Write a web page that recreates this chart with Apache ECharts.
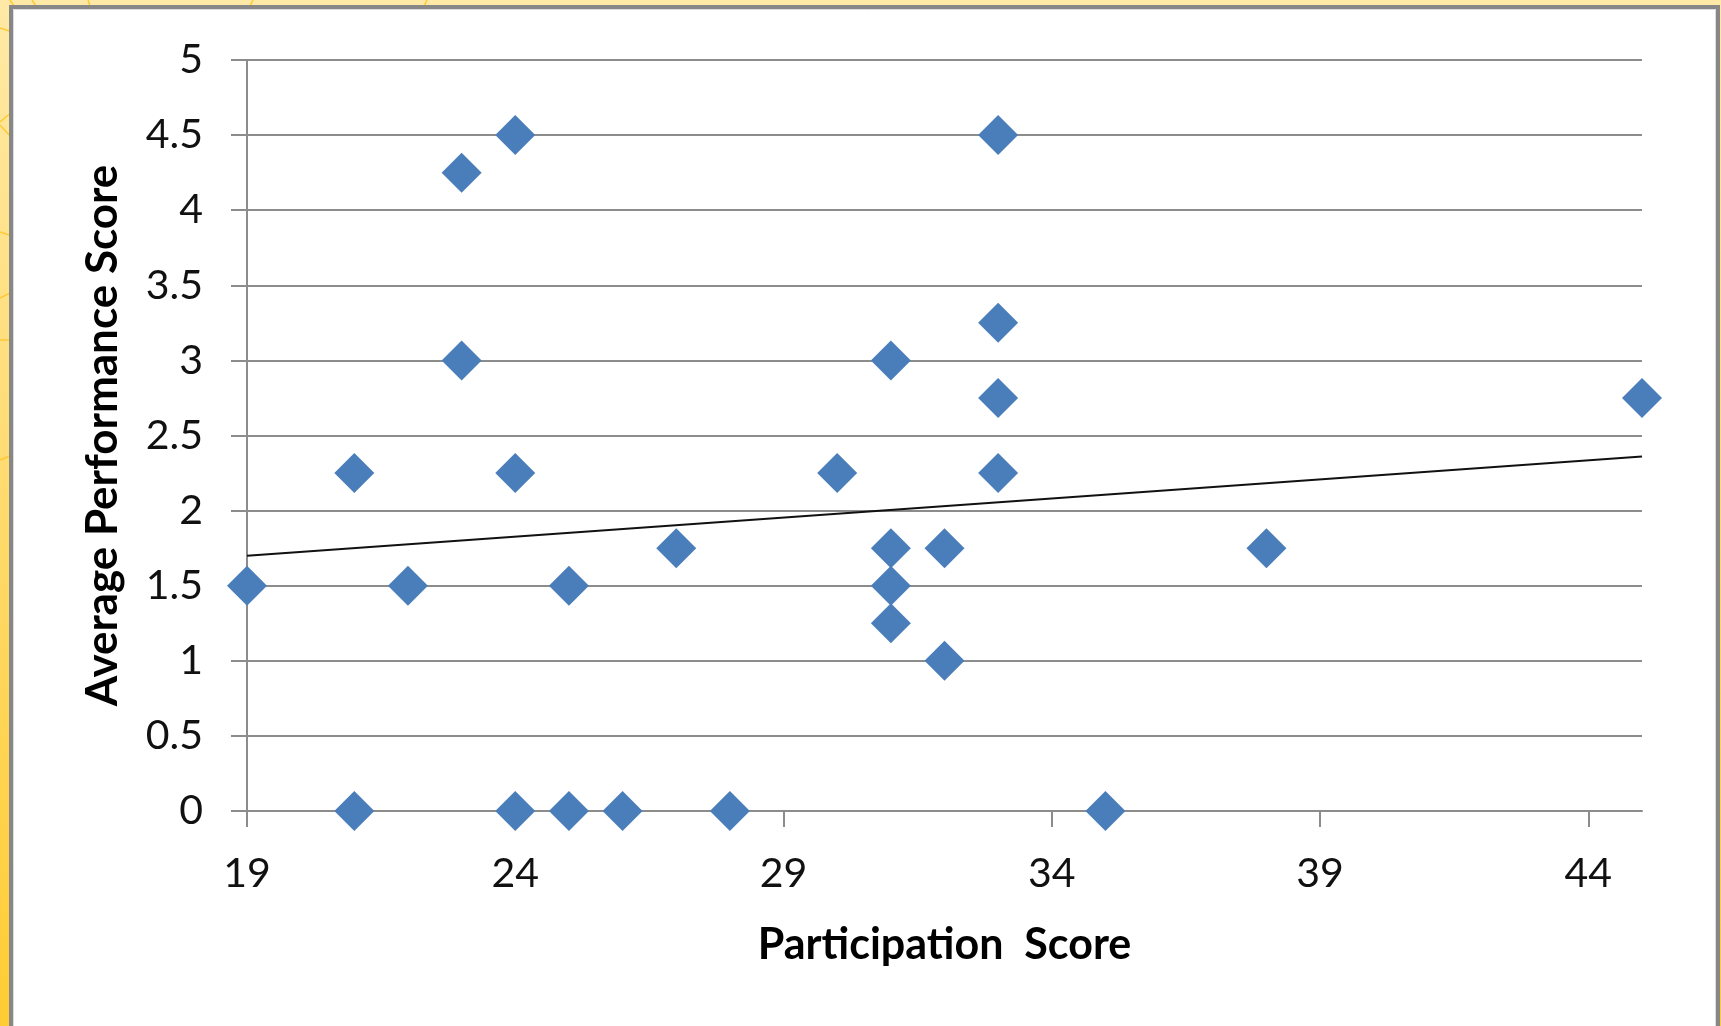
<!DOCTYPE html>
<html>
<head>
<meta charset="utf-8">
<title>Participation vs Average Performance</title>
<script src="https://cdn.jsdelivr.net/npm/echarts@6/dist/echarts.min.js"></script>
<style>
  html, body { margin: 0; padding: 0; width: 1721px; height: 1026px; overflow: hidden; }
  #chart { width: 1721px; height: 1026px; }
</style>
</head>
<body>
<div id="chart"></div>
<script>
// Participation score (x) and average performance score (y) per student
const participation = [19, 21, 21, 22, 23, 23, 24, 24, 24, 25, 25, 26, 27, 28, 30,
                       31, 31, 31, 31, 32, 32, 33, 33, 33, 33, 35, 38, 45];
const performance   = [1.5, 2.25, 0, 1.5, 4.25, 3, 4.5, 2.25, 0, 1.5, 0, 0, 1.75, 0, 2.25,
                       3, 1.75, 1.5, 1.25, 1.75, 1, 4.5, 3.25, 2.75, 2.25, 0, 1.75, 2.75];

// Linear trend line end points
const trendX = [19, 45];
const trendY = [1.70, 2.36];

// Axis ticks
const xTicks = [19, 24, 29, 34, 39, 44];
const yTicks = [0, 0.5, 1, 1.5, 2, 2.5, 3, 3.5, 4, 4.5, 5];

const points = participation.map((x, i) => [x, performance[i]]);
const trend = trendX.map((x, i) => [x, trendY[i]]);

const FONT = 'Lato, "Open Sans", sans-serif';
const GRID_GRAY = '#8c8c8c';

const chart = echarts.init(document.getElementById('chart'), null, { renderer: 'canvas' });

chart.setOption({
  animation: false,
  backgroundColor: 'transparent',
  graphic: [
    // warm yellow backdrop
    {
      type: 'rect', z: -10, silent: true,
      shape: { x: 0, y: 0, width: 1721, height: 1026 },
      style: {
        fill: new echarts.graphic.LinearGradient(0, 0, 0, 1, [
          { offset: 0, color: '#ffe9a6' },
          { offset: 1, color: '#ffcc33' }
        ])
      }
    },
    // faint rays in the backdrop
    { type: 'line', z: -9, silent: true, shape: { x1: 0, y1: 28, x2: 12, y2: 32 }, style: { stroke: '#ffc933', lineWidth: 1.5 } },
    { type: 'line', z: -9, silent: true, shape: { x1: 0, y1: 122, x2: 12, y2: 112 }, style: { stroke: '#ffc933', lineWidth: 1.5 } },
    { type: 'line', z: -9, silent: true, shape: { x1: 0, y1: 125, x2: 12, y2: 138 }, style: { stroke: '#ffc933', lineWidth: 1.5 } },
    { type: 'line', z: -9, silent: true, shape: { x1: 0, y1: 232, x2: 12, y2: 236 }, style: { stroke: '#ffc933', lineWidth: 1.5 } },
    { type: 'line', z: -9, silent: true, shape: { x1: 0, y1: 298, x2: 12, y2: 292 }, style: { stroke: '#ffc933', lineWidth: 1.5 } },
    { type: 'line', z: -9, silent: true, shape: { x1: 0, y1: 340, x2: 12, y2: 340 }, style: { stroke: '#ffc933', lineWidth: 1.5 } },
    { type: 'line', z: -9, silent: true, shape: { x1: 0, y1: 460, x2: 12, y2: 455 }, style: { stroke: '#ffc933', lineWidth: 1.5 } },
    { type: 'line', z: -9, silent: true, shape: { x1: 10, y1: 0, x2: 14, y2: 6 }, style: { stroke: '#ffc933', lineWidth: 1.5 } },
    { type: 'line', z: -9, silent: true, shape: { x1: 32, y1: 0, x2: 36, y2: 6 }, style: { stroke: '#ffc933', lineWidth: 1.5 } },
    { type: 'line', z: -9, silent: true, shape: { x1: 90, y1: 6, x2: 88, y2: 0 }, style: { stroke: '#ffc933', lineWidth: 1.5 } },
    { type: 'line', z: -9, silent: true, shape: { x1: 250, y1: 6, x2: 253, y2: 0 }, style: { stroke: '#ffc933', lineWidth: 1.5 } },
    { type: 'line', z: -9, silent: true, shape: { x1: 424, y1: 6, x2: 427, y2: 0 }, style: { stroke: '#ffc933', lineWidth: 1.5 } },
    // white chart panel with grey frame
    {
      type: 'rect', z: -8, silent: true,
      shape: { x: 11, y: 7, width: 1707, height: 1040 },
      style: { fill: '#ffffff', stroke: '#878787', lineWidth: 4 }
    },
    {
      type: 'rect', z: -7, silent: true,
      shape: { x: 13.5, y: 9.5, width: 1702, height: 1040 },
      style: { fill: 'none', stroke: '#dcdcdc', lineWidth: 1 }
    }
  ],
  grid: { left: 247, right: 79, top: 60, bottom: 215, containLabel: false },
  xAxis: {
    type: 'value',
    min: 19,
    max: 45,
    interval: 5,
    name: 'Participation  Score',
    nameLocation: 'middle',
    nameGap: 113,
    nameTextStyle: { fontFamily: FONT, fontWeight: 'bold', fontSize: 43, color: '#000' },
    axisLine: { show: true, lineStyle: { color: GRID_GRAY, width: 2 } },
    axisTick: { show: true, length: 16, lineStyle: { color: GRID_GRAY, width: 2 }, customValues: xTicks },
    axisLabel: { fontFamily: FONT, fontSize: 41, color: '#111', margin: 42, customValues: xTicks },
    splitLine: { show: false }
  },
  yAxis: {
    type: 'value',
    min: 0,
    max: 5,
    interval: 0.5,
    name: 'Average Performance Score',
    nameLocation: 'middle',
    nameGap: 122,
    nameTextStyle: { fontFamily: FONT, fontWeight: 'bold', fontSize: 44, color: '#000' },
    axisLine: { show: true, lineStyle: { color: GRID_GRAY, width: 2 } },
    axisTick: { show: true, length: 16, lineStyle: { color: GRID_GRAY, width: 2 }, customValues: yTicks },
    axisLabel: { fontFamily: FONT, fontSize: 41, color: '#111', margin: 44, customValues: yTicks },
    splitLine: { show: true, lineStyle: { color: GRID_GRAY, width: 2 } }
  },
  series: [
    {
      type: 'scatter',
      symbol: 'diamond',
      symbolSize: 40,
      itemStyle: { color: '#4a7ebb', opacity: 1 },
      data: points,
      z: 3
    },
    {
      type: 'line',
      data: trend,
      symbol: 'none',
      lineStyle: { color: '#111', width: 2 },
      silent: true,
      z: 4
    }
  ]
});
</script>
</body>
</html>
